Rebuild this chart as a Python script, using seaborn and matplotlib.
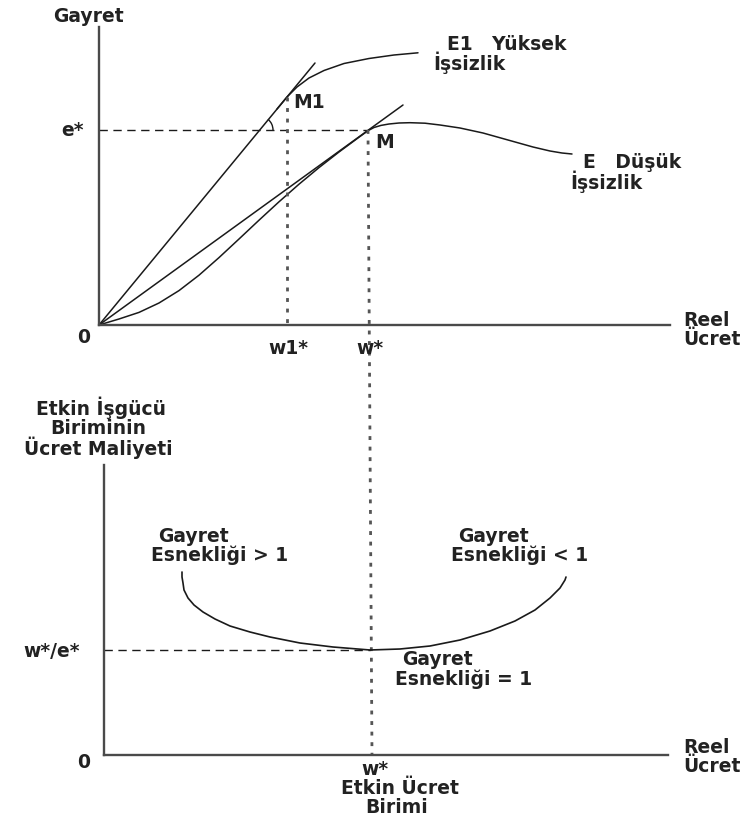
import numpy as np
import pandas as pd
import matplotlib
matplotlib.use("Agg")
import matplotlib.pyplot as plt
import seaborn as sns
from matplotlib.patches import Arc

sns.set_theme(style="white")
plt.rcParams['font.family'] = ['DejaVu Sans']

# ---------------- data (diagram units) ----------------
# Top panel: effort (Gayret) vs real wage
w1_star = 188
w_star = 269
e_star = 195
e1_at_w1 = 228

tangent1_x = [0, 216]
tangent1_y = [0, 262]
ray_x = [0, 304]
ray_y = [0, 220]

E1_x = [178, 188, 198, 210, 225, 245, 270, 295, 319]
E1_y = [216, 228, 238, 247, 254.5, 261.5, 266.5, 270, 272.2]

E_x = [0, 20, 40, 60, 80, 100, 120, 140, 160, 180, 200, 220, 240, 260, 269, 275,
       282, 290, 300, 311, 326, 341, 361, 384, 409, 434, 451, 463, 473]
E_y = [0, 6, 12.6, 22, 34.4, 49.8, 67.4, 86, 104.8, 123.2, 140.8, 157.4, 173,
       187.8, 194.3, 197.5, 199.6, 201, 202, 202.3, 201.8, 200, 197, 192, 185,
       178, 174, 172, 171]

# Bottom panel: wage cost per efficiency unit
u_x = [78, 78, 79, 80, 84, 90, 99, 111, 126, 146, 166, 196, 229, 266, 296, 326,
       356, 386, 411, 431, 446, 456, 461, 462]
u_y = [183, 178, 172, 165, 157, 150, 143, 136, 129, 123, 118, 112, 108, 105, 106,
       109, 115, 124, 134, 145, 157, 167, 175, 178]
u_min_cost = 105
u_min_wage = 266

TXT = dict(fontsize=13.5, fontweight='bold', color='#222222')
LINE = '#1a1a1a'
SPINE = '#4a4a4a'
DOT = '#555555'

W, H = 753, 821
fig = plt.figure(figsize=(W / 100, H / 100), dpi=100)


def rect(l, t, r, b):
    return [l / W, (H - b) / H, (r - l) / W, (b - t) / H]


def ftext(x, y, s, ha='center'):
    fig.text(x / W, (H - y) / H, s, ha=ha, va='center', **TXT)


def style(ax, xmax, ymax):
    ax.set_xlim(0, xmax)
    ax.set_ylim(0, ymax)
    for sp in ['top', 'right']:
        ax.spines[sp].set_visible(False)
    for sp in ['left', 'bottom']:
        ax.spines[sp].set_color(SPINE)
        ax.spines[sp].set_linewidth(1.7)
    ax.set_xticks([])
    ax.set_yticks([])
    ax.set_facecolor('none')
    ax.set_xlabel('')
    ax.set_ylabel('')


# ---------------- top panel ----------------
ax1 = fig.add_axes(rect(99, 27, 670, 325))
for xs, ys in [(tangent1_x, tangent1_y), (ray_x, ray_y), (E1_x, E1_y), (E_x, E_y)]:
    sns.lineplot(x=xs, y=ys, ax=ax1, color=LINE, lw=1.1, sort=False, estimator=None)
style(ax1, 571, 298)

# guides
ax1.plot([0, w_star], [e_star, e_star], color=LINE, lw=1.0, ls=(0, (6, 4)))
ax1.plot([w1_star, w1_star], [e1_at_w1, 0], color=DOT, lw=2.0, ls=(0, (1.4, 2.4)))
ax1.plot([w_star, w_star + 4], [e_star, -430], color=DOT, lw=2.0,
         ls=(0, (1.4, 2.4)), clip_on=False)
ax1.add_patch(Arc((160, e_star), 28, 28, theta1=0, theta2=50, color=LINE, lw=1.0))

# ---------------- bottom panel ----------------
ax2 = fig.add_axes(rect(104, 465, 668, 755))
sns.lineplot(x=u_x, y=u_y, ax=ax2, color=LINE, lw=1.2, sort=False, estimator=None)
style(ax2, 564, 290)
ax2.plot([0, u_min_wage], [u_min_cost, u_min_cost], color=LINE, lw=1.0, ls=(0, (6, 4)))

# ---------------- labels ----------------
ftext(88, 16, "Gayret")
ftext(72, 130, "e*")
ftext(293, 103, "M1", ha='left')
ftext(375, 142, "M", ha='left')
ftext(447, 44, "E1   Yüksek", ha='left')
ftext(433, 63, "İşsizlik", ha='left')
ftext(583, 162, "E   Düşük", ha='left')
ftext(570, 182, "İşsizlik", ha='left')
ftext(84, 337, "0")
ftext(288, 348, "w1*")
ftext(370, 348, "w*")
ftext(683, 320, "Reel", ha='left')
ftext(683, 339, "Ücret", ha='left')

ftext(101, 408, "Etkin İşgücü")
ftext(98, 428, "Biriminin")
ftext(98, 448, "Ücret Maliyeti")
ftext(52, 651, "w*/e*")
ftext(84, 762, "0")
ftext(193, 536, "Gayret")
ftext(220, 555, "Esnekliği > 1")
ftext(493, 536, "Gayret")
ftext(520, 555, "Esnekliği < 1")
ftext(437, 659, "Gayret")
ftext(464, 679, "Esnekliği = 1")
ftext(375, 769, "w*")
ftext(400, 788, "Etkin Ücret")
ftext(397, 807, "Birimi")
ftext(683, 747, "Reel", ha='left')
ftext(683, 766, "Ücret", ha='left')

fig.savefig("out.png", dpi=100, facecolor='white')
